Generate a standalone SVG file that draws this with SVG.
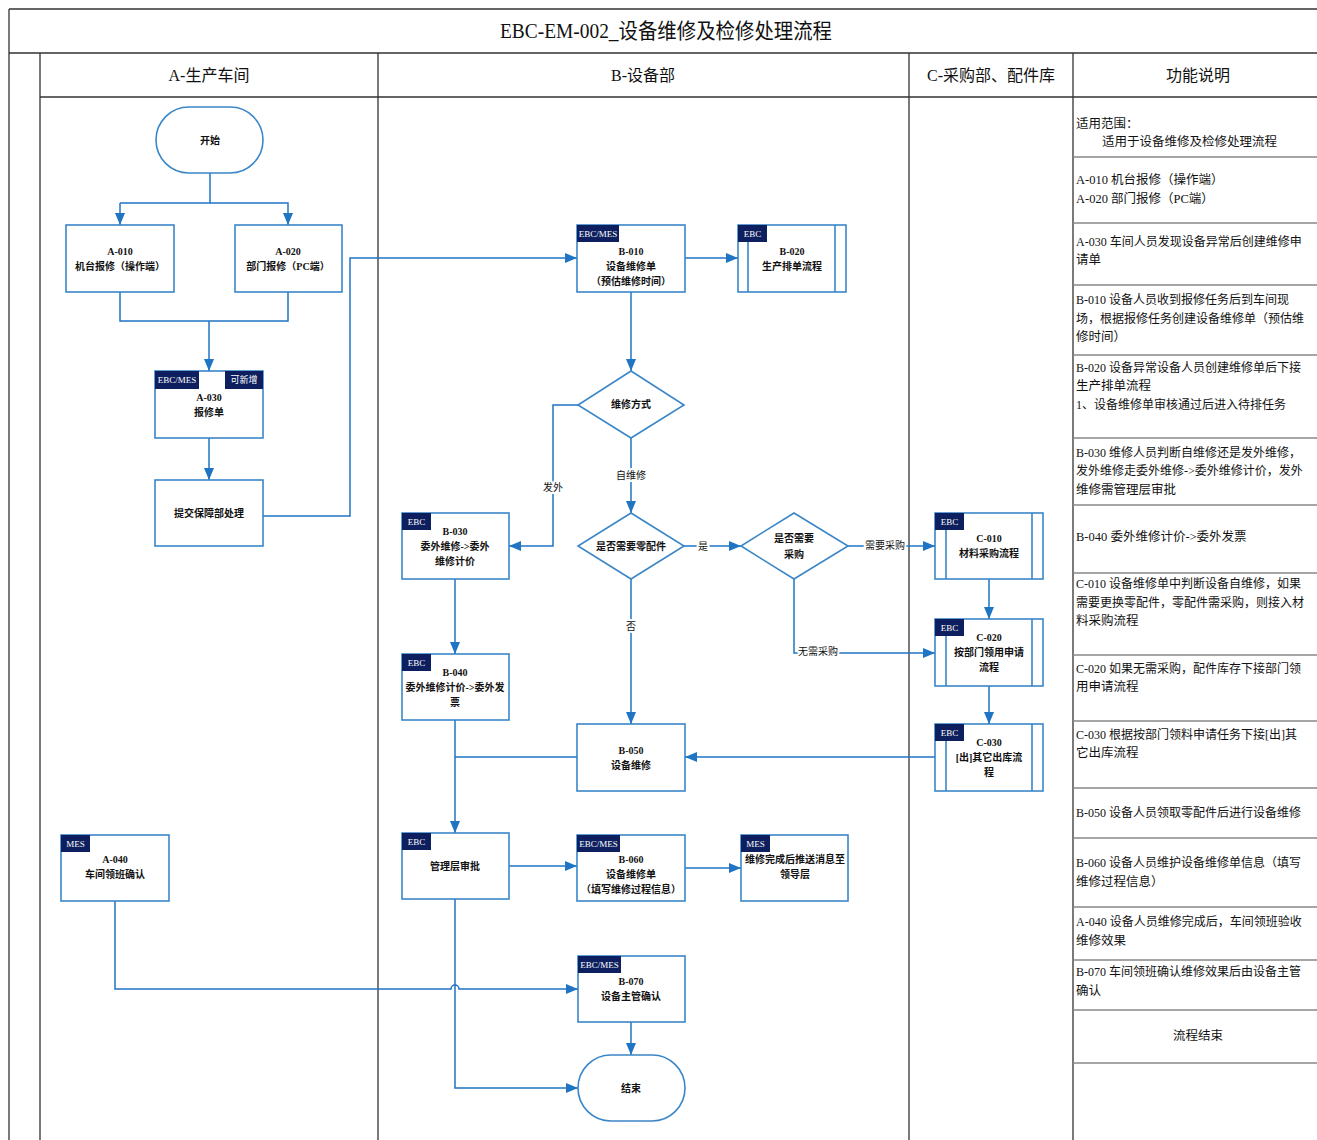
<svg xmlns="http://www.w3.org/2000/svg" width="1317" height="1140" viewBox="0 0 1317 1140">
<style>
text{font-family:"Liberation Serif","Noto Sans CJK SC",serif;fill:#111}
.lane{stroke:#333;stroke-width:1.3;fill:none}
.row{stroke:#888;stroke-width:1.5;fill:none}
.box{fill:#fff;stroke:#3a86c8;stroke-width:1.6}
.inner{stroke:#3a86c8;stroke-width:1.6;fill:none}
.tag{fill:#0d1f5e}
.tt{fill:#fff;font-size:9px;text-anchor:middle;dominant-baseline:central}
.t{font-size:10px;font-weight:bold;text-anchor:middle;dominant-baseline:central}
.conn{stroke:#1f74c4;stroke-width:1.5;fill:none}
.arr{marker-end:url(#ah)}
.lbl{font-size:10px;text-anchor:middle;dominant-baseline:central;stroke:#fff;stroke-width:4px;paint-order:stroke;stroke-linejoin:round}
.hd{font-size:16px;text-anchor:middle;dominant-baseline:central}
.fn{font-size:12.5px;dominant-baseline:central}
.fs{font-size:12px;dominant-baseline:central}
</style>
<defs>
<marker id="ah" viewBox="0 0 12 10" refX="12" refY="5" markerWidth="12" markerHeight="10" markerUnits="userSpaceOnUse" orient="auto"><path d="M0,0 L12,5 L0,10 z" fill="#1f74c4"/></marker>
</defs>
<rect width="1317" height="1140" fill="#fff"/>
<g id="frame">
<path class="lane" d="M9,9 H1317 M9,9 V1140 M9,53 H1317 M40,97 H1317 M40,53 V1140 M378,53 V1140 M909,53 V1140 M1073,53 V1140"/>
<text x="666" y="31" font-size="21" text-anchor="middle" dominant-baseline="central" textLength="332" lengthAdjust="spacingAndGlyphs">EBC-EM-002_设备维修及检修处理流程</text>
<text class="hd" x="209" y="75">A-生产车间</text>
<text class="hd" x="643" y="75">B-设备部</text>
<text class="hd" x="991" y="75">C-采购部、配件库</text>
<text class="hd" x="1198" y="75">功能说明</text>
</g>
<g id="func">
<path class="row" d="M1073,157 H1317 M1073,223 H1317 M1073,285 H1317 M1073,355 H1317 M1073,438 H1317 M1073,505 H1317 M1073,573 H1317 M1073,655 H1317 M1073,721 H1317 M1073,788 H1317 M1073,838 H1317 M1073,907 H1317 M1073,960 H1317 M1073,1010 H1317 M1073,1063 H1317"/>
<text class="fn" x="1076" y="124">适用范围：</text>
<text class="fn" x="1102" y="142">适用于设备维修及检修处理流程</text>
<text class="fn" x="1076" y="180">A-010 机台报修（操作端）</text>
<text class="fn" x="1076" y="199">A-020 部门报修（PC端）</text>
<text class="fs" x="1076" y="242">A-030 车间人员发现设备异常后创建维修申</text>
<text class="fn" x="1076" y="260">请单</text>
<text class="fs" x="1076" y="300">B-010 设备人员收到报修任务后到车间现</text>
<text class="fs" x="1076" y="319">场，根据报修任务创建设备维修单（预估维</text>
<text class="fn" x="1076" y="337">修时间）</text>
<text class="fs" x="1076" y="368">B-020 设备异常设备人员创建维修单后下接</text>
<text class="fn" x="1076" y="386">生产排单流程</text>
<text class="fs" x="1076" y="405">1、设备维修单审核通过后进入待排任务</text>
<text class="fs" x="1076" y="453">B-030 维修人员判断自维修还是发外维修，</text>
<text class="fs" x="1076" y="471">发外维修走委外维修-&gt;委外维修计价，发外</text>
<text class="fn" x="1076" y="490">维修需管理层审批</text>
<text class="fn" x="1076" y="537">B-040 委外维修计价-&gt;委外发票</text>
<text class="fs" x="1076" y="584">C-010 设备维修单中判断设备自维修，如果</text>
<text class="fs" x="1076" y="603">需要更换零配件，零配件需采购，则接入材</text>
<text class="fn" x="1076" y="621">料采购流程</text>
<text class="fs" x="1076" y="669">C-020 如果无需采购，配件库存下接部门领</text>
<text class="fn" x="1076" y="687">用申请流程</text>
<text class="fs" x="1076" y="735">C-030 根据按部门领料申请任务下接[出]其</text>
<text class="fn" x="1076" y="753">它出库流程</text>
<text class="fs" x="1076" y="813">B-050 设备人员领取零配件后进行设备维修</text>
<text class="fs" x="1076" y="863">B-060 设备人员维护设备维修单信息（填写</text>
<text class="fn" x="1076" y="882">维修过程信息）</text>
<text class="fs" x="1076" y="922">A-040 设备人员维修完成后，车间领班验收</text>
<text class="fn" x="1076" y="941">维修效果</text>
<text class="fs" x="1076" y="972">B-070 车间领班确认维修效果后由设备主管</text>
<text class="fn" x="1076" y="991">确认</text>
<text class="fn" x="1198" y="1036" text-anchor="middle">流程结束</text>
</g>
<g id="connectors">
<path class="conn" d="M210,173 V203 H120"/>
<path class="conn arr" d="M120,203 V225"/>
<path class="conn arr" d="M210,203 H288 V225"/>
<path class="conn" d="M120,292 V321 H288 V292"/>
<path class="conn arr" d="M209,321 V371"/>
<path class="conn arr" d="M209,438 V480"/>
<path class="conn arr" d="M263,516 H350 V258 H577"/>
<path class="conn arr" d="M685,258 H738"/>
<path class="conn arr" d="M631,292 V371"/>
<path class="conn arr" d="M578,405 H553 V546 H509"/>
<path class="conn arr" d="M631,438 V513"/>
<path class="conn arr" d="M684,546 H741"/>
<path class="conn arr" d="M848,546 H935"/>
<path class="conn arr" d="M794,579 V653 H935"/>
<path class="conn arr" d="M631,579 V724"/>
<path class="conn arr" d="M455,579 V654"/>
<path class="conn arr" d="M455,720 V833"/>
<path class="conn" d="M577,757 H455"/>
<path class="conn arr" d="M989,579 V619"/>
<path class="conn arr" d="M989,686 V724"/>
<path class="conn arr" d="M935,757 H685"/>
<path class="conn arr" d="M509,866 H577"/>
<path class="conn arr" d="M685,868 H741"/>
<path class="conn arr" d="M115,901 V989 H451 A4,4 0 0 1 459,989 H578"/>
<path class="conn arr" d="M631,1022 V1055"/>
<path class="conn arr" d="M455,899 V1088 H578"/>
<text class="lbl" x="553" y="487">发外</text>
<text class="lbl" x="631" y="475">自维修</text>
<text class="lbl" x="703" y="546">是</text>
<text class="lbl" x="885" y="545">需要采购</text>
<text class="lbl" x="818" y="651">无需采购</text>
<text class="lbl" x="631" y="626">否</text>
</g>
<g id="start"><rect class="box" x="156" y="107" width="107" height="66" rx="33"/><text class="t" x="210" y="140">开始</text></g>
<g id="A-010"><rect class="box" x="66" y="225" width="108" height="67"/><text class="t" x="120" y="251">A-010</text><text class="t" x="120" y="266">机台报修（操作端）</text></g>
<g id="A-020"><rect class="box" x="235" y="225" width="107" height="67"/><text class="t" x="288" y="251">A-020</text><text class="t" x="288" y="266">部门报修（PC端）</text></g>
<g id="A-030"><rect class="box" x="155" y="371" width="108" height="67"/><rect class="tag" x="155" y="371" width="44" height="18"/><text class="tt" x="177" y="380">EBC/MES</text><rect class="tag" x="225" y="371" width="38" height="18"/><text class="tt" x="244" y="380">可新增</text><text class="t" x="209" y="397">A-030</text><text class="t" x="209" y="412">报修单</text></g>
<g id="submit"><rect class="box" x="155" y="480" width="108" height="66"/><text class="t" x="209" y="513">提交保障部处理</text></g>
<g id="B-010"><rect class="box" x="577" y="225" width="108" height="67"/><rect class="tag" x="577" y="225" width="42" height="17"/><text class="tt" x="598" y="233.5">EBC/MES</text><text class="t" x="631" y="251">B-010</text><text class="t" x="631" y="266">设备维修单</text><text class="t" x="631" y="281">（预估维修时间）</text></g>
<g id="B-020"><rect class="box" x="738" y="225" width="108" height="67"/><path class="inner" d="M748,225 V292 M835,225 V292"/><rect class="tag" x="738" y="225" width="29" height="17"/><text class="tt" x="752.5" y="233.5">EBC</text><text class="t" x="792" y="251">B-020</text><text class="t" x="792" y="266">生产排单流程</text></g>
<g id="D1"><path class="box" d="M631,371 L684,405 L631,438 L578,405 Z"/><text class="t" x="631" y="404">维修方式</text></g>
<g id="D2"><path class="box" d="M631,513 L684,546 L631,579 L578,546 Z"/><text class="t" x="631" y="546">是否需要零配件</text></g>
<g id="D3"><path class="box" d="M794,513 L848,546 L794,579 L741,546 Z"/><text class="t" x="794" y="538">是否需要</text><text class="t" x="794" y="554">采购</text></g>
<g id="B-030"><rect class="box" x="402" y="513" width="107" height="66"/><rect class="tag" x="402" y="513" width="29" height="17"/><text class="tt" x="416.5" y="521.5">EBC</text><text class="t" x="455" y="531">B-030</text><text class="t" x="455" y="546">委外维修-&gt;委外</text><text class="t" x="455" y="561">维修计价</text></g>
<g id="B-040"><rect class="box" x="402" y="654" width="107" height="66"/><rect class="tag" x="402" y="654" width="29" height="17"/><text class="tt" x="416.5" y="662.5">EBC</text><text class="t" x="455" y="672">B-040</text><text class="t" x="455" y="687">委外维修计价-&gt;委外发</text><text class="t" x="455" y="702">票</text></g>
<g id="B-050"><rect class="box" x="577" y="724" width="108" height="67"/><text class="t" x="631" y="750">B-050</text><text class="t" x="631" y="765">设备维修</text></g>
<g id="C-010"><rect class="box" x="935" y="513" width="108" height="66"/><path class="inner" d="M946,513 V579 M1032,513 V579"/><rect class="tag" x="935" y="513" width="29" height="17"/><text class="tt" x="949.5" y="521.5">EBC</text><text class="t" x="989" y="538">C-010</text><text class="t" x="989" y="553">材料采购流程</text></g>
<g id="C-020"><rect class="box" x="935" y="619" width="108" height="67"/><path class="inner" d="M946,619 V686 M1032,619 V686"/><rect class="tag" x="935" y="619" width="29" height="17"/><text class="tt" x="949.5" y="627.5">EBC</text><text class="t" x="989" y="637">C-020</text><text class="t" x="989" y="652">按部门领用申请</text><text class="t" x="989" y="667">流程</text></g>
<g id="C-030"><rect class="box" x="935" y="724" width="108" height="67"/><path class="inner" d="M946,724 V791 M1032,724 V791"/><rect class="tag" x="935" y="724" width="29" height="17"/><text class="tt" x="949.5" y="732.5">EBC</text><text class="t" x="989" y="742">C-030</text><text class="t" x="989" y="757">[出]其它出库流</text><text class="t" x="989" y="772">程</text></g>
<g id="approve"><rect class="box" x="402" y="833" width="107" height="66"/><rect class="tag" x="402" y="833" width="29" height="17"/><text class="tt" x="416.5" y="841.5">EBC</text><text class="t" x="455" y="866">管理层审批</text></g>
<g id="B-060"><rect class="box" x="577" y="835" width="108" height="66"/><rect class="tag" x="577" y="835" width="43" height="17"/><text class="tt" x="598.5" y="843.5">EBC/MES</text><text class="t" x="631" y="859">B-060</text><text class="t" x="631" y="874">设备维修单</text><text class="t" x="631" y="889">（填写维修过程信息）</text></g>
<g id="push"><rect class="box" x="741" y="835" width="107" height="66"/><rect class="tag" x="741" y="835" width="29" height="17"/><text class="tt" x="755.5" y="843.5">MES</text><text class="t" x="795" y="859">维修完成后推送消息至</text><text class="t" x="795" y="874">领导层</text></g>
<g id="A-040"><rect class="box" x="61" y="835" width="108" height="66"/><rect class="tag" x="61" y="835" width="29" height="17"/><text class="tt" x="75.5" y="843.5">MES</text><text class="t" x="115" y="859">A-040</text><text class="t" x="115" y="874">车间领班确认</text></g>
<g id="B-070"><rect class="box" x="578" y="956" width="107" height="66"/><rect class="tag" x="578" y="956" width="43" height="17"/><text class="tt" x="599.5" y="964.5">EBC/MES</text><text class="t" x="631" y="981">B-070</text><text class="t" x="631" y="996">设备主管确认</text></g>
<g id="end"><rect class="box" x="578" y="1055" width="107" height="66" rx="33"/><text class="t" x="631" y="1088">结束</text></g>
</svg>
